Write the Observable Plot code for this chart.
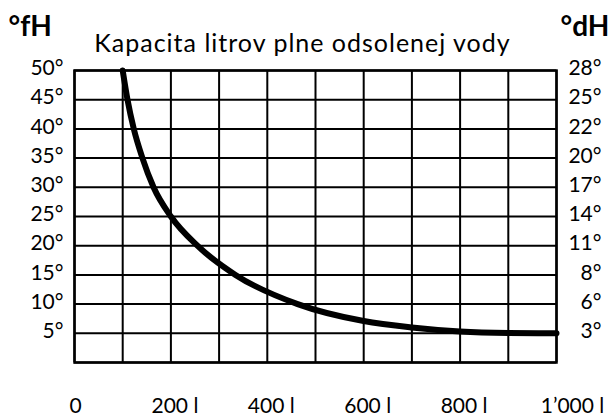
<!DOCTYPE html>
<html>
<head>
<meta charset="utf-8">
<script src="https://cdn.jsdelivr.net/npm/d3@7"></script>
<script src="https://cdn.jsdelivr.net/npm/@observablehq/plot@0.6"></script>
<style>
  html, body { margin: 0; padding: 0; background: #fff; }
  svg { font-family: Lato, "Open Sans", sans-serif; }
</style>
</head>
<body>
<div id="chart"></div>
<script>
// Data
const title = "Kapacita litrov plne odsolenej vody";
const leftUnit = "°fH";
const rightUnit = "°dH";
const litres = [100, 110, 123, 141, 164, 200, 255, 334, 463, 600, 700, 800, 900, 1000];
const hardnessFH = [50, 45, 40, 35, 30, 25, 20, 15, 10, 7.1, 6.0, 5.3, 5.05, 5.0];
const fhTicks = [50, 45, 40, 35, 30, 25, 20, 15, 10, 5];
const fhLabels = ["50°", "45°", "40°", "35°", "30°", "25°", "20°", "15°", "10°", "5°"];
const dhLabels = ["28°", "25°", "22°", "20°", "17°", "14°", "11°", "8°", "6°", "3°"];
const xTicks = [0, 200, 400, 600, 800, 1000];
const xLabels = ["0", "200 l", "400 l", "600 l", "800 l", "1’000 l"];
const xGrid = d3.range(0, 1001, 100);
const yGrid = d3.range(0, 51, 5);

const curve = litres.map((x, i) => ({x, y: hardnessFH[i]}));
const xl = xTicks.map((x, i) => ({x, label: xLabels[i], i}));
const n = xl.length;

const chart = Plot.plot({
  width: 616,
  height: 417,
  marginLeft: 74,
  marginRight: 60,
  marginTop: 70,
  marginBottom: 55,
  style: {fontFamily: "Lato, 'Open Sans', sans-serif", color: "#000", background: "#fff"},
  x: {domain: [0, 1000], axis: null},
  y: {domain: [0, 50], axis: null},
  marks: [
    Plot.gridX(xGrid, {stroke: "#000", strokeOpacity: 1, strokeWidth: 2}),
    Plot.gridY(yGrid, {stroke: "#000", strokeOpacity: 1, strokeWidth: 2}),
    Plot.frame({stroke: "#000", strokeWidth: 2.5}),
    Plot.line(curve, {x: "x", y: "y", stroke: "#000", strokeWidth: 6, curve: "monotone-x"}),
    Plot.axisY(fhTicks, {anchor: "left", label: null, tickSize: 0, tickPadding: 11, fontSize: 21,
      tickFormat: (d, i) => fhLabels[i], dy: -2}),
    Plot.axisY(fhTicks, {anchor: "right", label: null, tickSize: 0, tickPadding: 3, fontSize: 21,
      textAnchor: "end", dx: 42, tickFormat: (d, i) => dhLabels[i], dy: -2}),
    Plot.text(xl.filter(d => d.i === 0), {x: "x", text: "label", frameAnchor: "bottom", lineAnchor: "middle",
      dy: 44, dx: 1, fontSize: 21, fill: "#000"}),
    Plot.text(xl.filter(d => d.i > 0 && d.i < n - 1), {x: "x", text: "label", frameAnchor: "bottom", lineAnchor: "middle",
      dy: 44, dx: 4, fontSize: 21, fill: "#000"}),
    Plot.text(xl.filter(d => d.i === n - 1), {x: "x", text: "label", frameAnchor: "bottom", lineAnchor: "middle",
      dy: 44, dx: 16, fontSize: 21, fill: "#000"}),
    Plot.text([title], {frameAnchor: "top", lineAnchor: "middle", dx: -13, dy: -27, fontSize: 25, fill: "#000"}),
    Plot.text([leftUnit], {frameAnchor: "top-left", lineAnchor: "middle", textAnchor: "start", dx: -66, dy: -43,
      fontSize: 28, fontWeight: "bold", fill: "#000"}),
    Plot.text([rightUnit], {frameAnchor: "top-right", lineAnchor: "middle", textAnchor: "start", dx: 4, dy: -43,
      fontSize: 28, fontWeight: "bold", fill: "#000"})
  ]
});
d3.select(chart).selectAll("text").filter(function() { return this.textContent === title; })
  .style("letter-spacing", "1px");
document.getElementById("chart").appendChild(chart);
</script>
</body>
</html>
